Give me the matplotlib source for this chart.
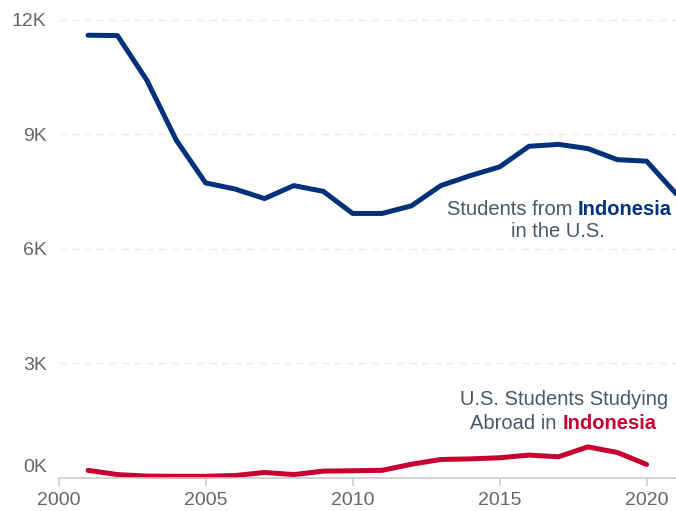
import matplotlib.pyplot as plt
from matplotlib.ticker import FuncFormatter
import matplotlib.transforms as mtransforms

plt.rcParams['font.family'] = ['Liberation Sans', 'DejaVu Sans']

years = list(range(2001, 2022))
from_indonesia = [11600, 11590, 10420, 8850, 7730, 7570, 7320, 7660, 7510, 6930,
                  6930, 7130, 7660, 7920, 8150, 8690, 8740, 8630, 8340, 8300, 7450]
abroad_years = list(range(2001, 2021))
us_abroad = [200, 90, 50, 45, 45, 65, 145, 90, 180, 190,
             200, 360, 485, 500, 530, 600, 555, 815, 670, 355]

BLUE = '#00317a'
RED = '#c8002f'
TXT = '#4a5866'
FS = 14.5

fig = plt.figure(figsize=(6.76, 5.11), dpi=100)
ax = fig.add_axes([0.0868, 0.0646, 0.9132, 0.9188])

ax.plot(years, from_indonesia, color=BLUE, lw=3.6, solid_capstyle='round', solid_joinstyle='round')
ax.plot(abroad_years, us_abroad, color=RED, lw=3.6, solid_capstyle='round', solid_joinstyle='round',
        clip_on=False)

ax.set_xlim(2000, 2021)
ax.set_ylim(0, 12300)
ax.set_yticks([0, 3000, 6000, 9000, 12000])
ax.yaxis.set_major_formatter(FuncFormatter(lambda v, p: f'{int(v / 1000)}K'))
ax.set_xticks([2000, 2005, 2010, 2015, 2020])
ax.grid(axis='y', color='#ebebeb', lw=1, ls=(0, (5, 4)))
ax.set_axisbelow(True)

for s in ['top', 'right', 'left']:
    ax.spines[s].set_visible(False)
ax.spines['bottom'].set_color('#cccccc')
ax.spines['bottom'].set_linewidth(1.2)
ax.tick_params(axis='y', length=0, pad=8.6, labelsize=14, labelcolor='#666666')
ax.tick_params(axis='x', length=6, width=1.2, color='#cccccc', pad=4, labelsize=14, labelcolor='#666666')

# 0K label sits above the axis line
lab0 = ax.get_yticklabels()[0]
lab0.set_transform(lab0.get_transform() + mtransforms.ScaledTranslation(0, 12 / 100, fig.dpi_scale_trans))


def draw_pieces(x, y, pieces):
    t = ax.text(x, y, pieces[0][0], color=pieces[0][1], fontweight=pieces[0][2],
                fontsize=FS, ha='left', va='center')
    for txt, col, fw in pieces[1:]:
        t = ax.annotate(txt, xy=(1, 0), xycoords=t, ha='left', va='bottom',
                        color=col, fontweight=fw, fontsize=FS)


draw_pieces(2013.2, 7035, [('Students from ', TXT, 'normal'), ('Indonesia', BLUE, 'bold')])
ax.text(2016.98, 6459, 'in the U.S.', color=TXT, fontsize=FS, ha='center', va='center')

ax.text(2017.2, 2057, 'U.S. Students Studying', color=TXT, fontsize=FS, ha='center', va='center')
draw_pieces(2014.0, 1428, [('Abroad in ', TXT, 'normal'), ('Indonesia', RED, 'bold')])

fig.savefig('out.png', dpi=100)
